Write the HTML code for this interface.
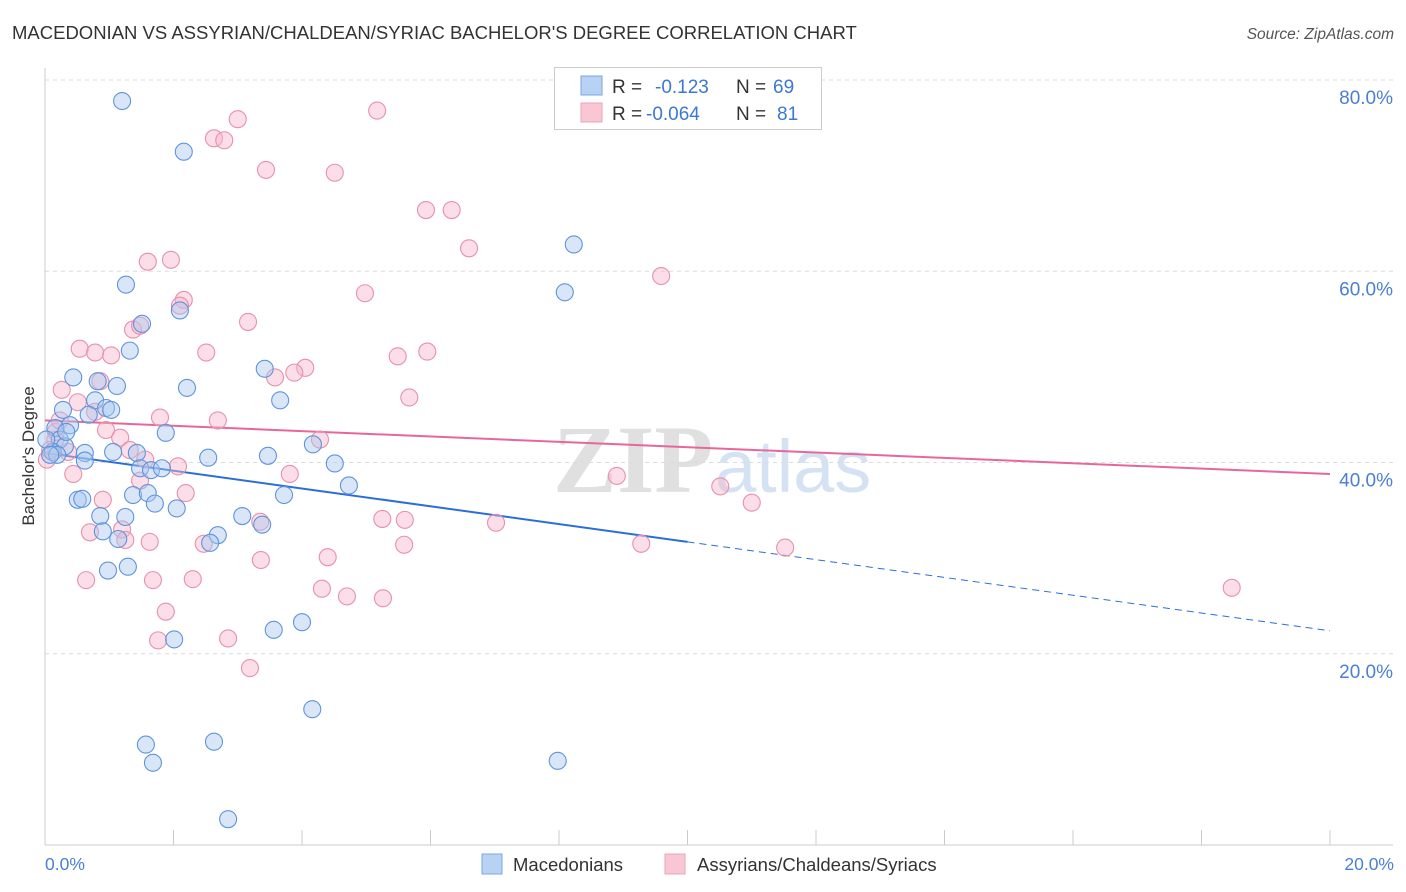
<!DOCTYPE html>
<html><head><meta charset="utf-8"><style>
body{margin:0;background:#fff;font-family:"Liberation Sans",sans-serif;}
svg{display:block}
</style></head><body>
<svg id="chart" width="1406" height="892">
<text x="12" y="39" font-size="18.5" fill="#333">MACEDONIAN VS ASSYRIAN/CHALDEAN/SYRIAC BACHELOR'S DEGREE CORRELATION CHART</text>
<text x="1394" y="39" font-size="15.5" fill="#555" font-style="italic" text-anchor="end">Source: ZipAtlas.com</text>
<g><text x="553" y="492" font-family="Liberation Serif,serif" font-size="96" fill="#e0e0e0" font-weight="bold">ZIP</text><text x="715" y="492" font-size="74" fill="#d4e2f4">atlas</text></g>
<g id="grid"></g>
<g id="axes"></g>
<g id="trends"></g>
<g id="points"></g>
<text transform="translate(34,456) rotate(-90)" font-size="17" fill="#333" text-anchor="middle">Bachelor's Degree</text>
<text x="45" y="870" font-size="17.5" fill="#4a7fd4">0.0%</text>
<text x="1394" y="870" font-size="17.5" fill="#4a7fd4" text-anchor="end">20.0%</text>
<g>
<rect x="554.5" y="67.5" width="267" height="62" fill="#fff" stroke="#ccc"/>
<rect x="581" y="76" width="21" height="19" fill="#b8d2f4" stroke="#7aa6e0"/>
<rect x="581" y="103" width="21" height="19" fill="#f9c6d4" stroke="#eea0b8"/>
<text x="612" y="93" font-size="19" fill="#333">R =</text><text x="655" y="93" font-size="19" fill="#3a78d4">-0.123</text>
<text x="736" y="93" font-size="19" fill="#333">N =</text><text x="773" y="93" font-size="19" fill="#3a78d4">69</text>
<text x="612" y="120" font-size="19" fill="#333">R =</text><text x="646" y="120" font-size="19" fill="#3a78d4">-0.064</text>
<text x="736" y="120" font-size="19" fill="#333">N =</text><text x="777" y="120" font-size="19" fill="#3a78d4">81</text>
</g>
<g>
<rect x="482" y="854" width="20" height="20" fill="#b8d2f4" stroke="#7aa6e0"/>
<text x="513" y="871" font-size="18.5" fill="#333">Macedonians</text>
<rect x="665" y="854" width="20" height="20" fill="#f9c6d4" stroke="#eea0b8"/>
<text x="697" y="871" font-size="18.5" fill="#333">Assyrians/Chaldeans/Syriacs</text>
</g>
</svg>
<script>
const yTicks=[20,40,60,80];
const yTickLabels=["20.0%","40.0%","60.0%","80.0%"];
const xTicks=[0,2,4,6,8,10,12,14,16,18,20];
const blueX=[1.20,2.16,8.23,1.26,8.09,2.10,1.51,1.32,0.44,0.82,1.12,2.21,3.42,3.66,0.28,0.78,0.68,0.95,1.03,0.39,0.16,0.23,0.31,0.12,0.19,0.62,1.06,1.43,1.88,2.54,3.47,4.17,4.51,0.62,1.48,1.65,1.82,4.73,0.51,0.58,1.37,1.60,1.71,2.05,0.86,1.25,3.07,3.38,3.72,0.90,1.14,2.69,2.57,0.98,1.29,2.01,3.56,4.00,4.16,1.57,1.68,2.63,7.98,2.85,0.02,0.08,0.33];
const blueY=[77.8,72.5,62.8,58.6,57.8,55.9,54.5,51.7,48.9,48.5,48.0,47.8,49.8,46.5,45.5,46.5,45.0,45.7,45.5,43.9,43.6,42.4,41.7,41.1,40.8,41.0,41.1,41.0,43.1,40.5,40.7,41.9,39.9,40.2,39.4,39.2,39.4,37.6,36.1,36.2,36.6,36.8,35.7,35.2,34.4,34.3,34.4,33.5,36.6,32.8,32.0,32.4,31.6,28.7,29.1,21.5,22.5,23.3,14.2,10.5,8.6,10.8,8.8,2.7,42.4,40.8,43.2];
const pinkX=[5.17,3.00,2.63,2.79,3.44,4.51,5.93,6.33,6.60,9.59,1.60,1.96,4.98,2.16,2.10,3.16,1.37,1.48,0.54,0.78,1.03,2.51,5.49,5.95,4.05,3.88,3.58,0.86,0.26,0.51,5.67,1.79,2.69,0.78,1.17,0.16,0.36,0.95,4.28,1.32,1.56,2.07,0.44,3.81,8.90,10.51,11.00,2.19,0.90,1.48,5.25,5.60,7.02,3.35,1.20,0.70,1.25,1.63,2.47,5.59,9.28,11.52,4.40,3.36,0.64,1.68,2.30,4.31,4.70,5.26,18.47,1.88,1.76,2.85,3.19,0.03,0.08,0.17,0.23];
const pinkY=[76.8,75.9,73.9,73.7,70.6,70.3,66.4,66.4,62.4,59.5,61.0,61.2,57.7,57.0,56.4,54.7,53.9,54.3,51.9,51.5,51.2,51.5,51.1,51.6,49.9,49.4,48.9,48.5,47.6,46.3,46.8,44.7,44.4,45.3,42.6,42.4,41.1,43.4,42.4,41.3,40.3,39.6,38.8,38.8,38.6,37.5,35.8,36.8,36.1,38.1,34.1,34.0,33.7,33.8,33.0,32.7,31.9,31.7,31.5,31.4,31.5,31.1,30.1,29.8,27.7,27.7,27.8,26.8,26.0,25.8,26.9,24.4,21.4,21.6,18.5,40.3,41.3,43.2,44.4];
const blueTrend=[41.0,-0.93];
const pinkTrend=[44.4,-0.28];
const blueSolidEnd=10;

const NS="http://www.w3.org/2000/svg";
const X=v=>45+v*64.25;
const Y=v=>845-v*9.5625;
function mk(tag,attrs,parent){const e=document.createElementNS(NS,tag);for(const k in attrs)e.setAttribute(k,attrs[k]);parent.appendChild(e);return e;}
const grid=document.getElementById('grid'),axes=document.getElementById('axes'),trends=document.getElementById('trends'),pts=document.getElementById('points');
yTicks.forEach((t,i)=>{
  const l=mk('line',{x1:45,x2:1393,y1:Y(t),y2:Y(t),stroke:'#dcdcdc','stroke-dasharray':'4,4'},grid);
  
  
  const tx=mk('text',{x:1393,y:Y(t)+24,'font-size':19,fill:'#4a7fd4','text-anchor':'end'},grid);
  tx.textContent=yTickLabels[i];
  
  
});
const la=mk('line',{x1:45,x2:45,y1:68,y2:845,stroke:'#ccc'},axes);


const ba=mk('line',{x1:45,x2:1393,y1:845,y2:845,stroke:'#ccc'},axes);


xTicks.forEach(t=>{
  const l=mk('line',{x1:X(t),x2:X(t),y1:830,y2:845,stroke:'#ccc'},axes);
  
  
});
function dots(xs,ys,fill,stroke,name){
  xs.forEach((x,i)=>{
    const c=mk('circle',{cx:X(x),cy:Y(ys[i]),r:8.5,fill:fill,'fill-opacity':0.45,stroke:stroke,'stroke-width':1.1},pts);
    
    
  });
}
dots(pinkX,pinkY,'#f6b6ca','#e890ac','assyrian-point');
dots(blueX,blueY,'#a8c8f0','#5f94dc','macedonian-point');
const tb=v=>blueTrend[0]+blueTrend[1]*v, tp=v=>pinkTrend[0]+pinkTrend[1]*v;
const b1=mk('line',{x1:X(0),y1:Y(tb(0)),x2:X(blueSolidEnd),y2:Y(tb(blueSolidEnd)),stroke:'#2a6fd8','stroke-width':2},trends);


const b2=mk('line',{x1:X(blueSolidEnd),y1:Y(tb(blueSolidEnd)),x2:X(20),y2:Y(tb(20)),stroke:'#2a6fd8','stroke-width':1,'stroke-dasharray':'7,5'},trends);


const p1=mk('line',{x1:X(0),y1:Y(tp(0)),x2:X(20),y2:Y(tp(20)),stroke:'#e8679a','stroke-width':2},trends);


</script>
</body></html>
